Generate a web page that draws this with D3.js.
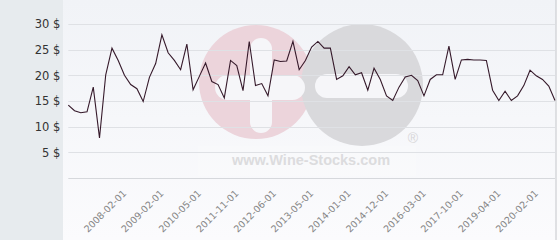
<!DOCTYPE html>
<html>
<head>
<meta charset="utf-8">
<script src="https://cdn.jsdelivr.net/npm/d3@7"></script>
<style>
    html, body { margin: 0; padding: 0; background: #fff; }
    svg { display: block; }
</style>
</head>
<body>
<div class="canvas"></div>
<script>
// Prices, one point per listing date
const prices = [
    14.2, 13.1, 12.7, 12.9, 17.7, 7.8, 20.1, 25.3, 22.9, 20.0,
    18.2, 17.4, 14.9, 19.6, 22.3, 27.9, 24.4, 22.9, 21.1, 26.1,
    17.2, 19.8, 22.4, 18.8, 18.2, 15.6, 22.9, 21.9, 17.0, 26.6,
    18.0, 18.4, 16.0, 23.0, 22.7, 22.8, 26.6, 21.1, 22.9, 25.5,
    26.6, 25.3, 25.3, 19.2, 19.9, 21.7, 20.1, 20.5, 17.1, 21.4,
    19.2, 16.0, 15.1, 17.7, 19.7, 20.0, 19.0, 16.0, 19.2, 20.1,
    20.1, 25.7, 19.2, 23.0, 23.1, 23.0, 23.0, 22.9, 17.1, 15.1,
    16.9, 15.1, 16.0, 18.0, 21.0, 19.9, 19.2, 17.9, 15.1
];

// Dates shown under the axis (every 6th point, from the 10th)
const tickLabels = [
    '2008-02-01', '2009-02-01', '2010-05-01', '2011-11-01',
    '2012-06-01', '2013-05-01', '2014-01-01', '2014-12-01',
    '2016-03-01', '2017-10-01', '2019-04-01', '2020-02-01'
];
const tickIndexes = [9, 15, 21, 27, 33, 39, 45, 51, 57, 63, 69, 75];

const yTicks = [5, 10, 15, 20, 25, 30];

const dims = {
    width: 560,
    height: 240,
    panelLeft: 63,
    panelRight: 556,
    plotLeft: 68.3,
    plotRight: 555,
    plotTop: 24,
    plotBottom: 178
};

const svg = d3.select('.canvas')
    .append('svg')
    .attr('width', dims.width)
    .attr('height', dims.height);

// Backgrounds
const defs = svg.append('defs');
const grad = defs.append('linearGradient')
    .attr('id', 'plotBg')
    .attr('x1', 0).attr('y1', 0).attr('x2', 0).attr('y2', 1);
grad.append('stop').attr('offset', '0%').attr('stop-color', '#f1f3f7');
grad.append('stop').attr('offset', '100%').attr('stop-color', '#fbfbfd');

svg.append('rect')
    .attr('width', dims.width)
    .attr('height', dims.height)
    .attr('fill', '#fbfbfc');

svg.append('rect')
    .attr('width', dims.panelLeft)
    .attr('height', dims.height)
    .attr('fill', '#e7ebee');

svg.append('rect')
    .attr('x', dims.panelLeft)
    .attr('width', dims.panelRight - dims.panelLeft)
    .attr('height', dims.height)
    .attr('fill', 'url(#plotBg)');

svg.append('line')
    .attr('x1', dims.panelRight).attr('x2', dims.panelRight)
    .attr('y1', 0).attr('y2', dims.height)
    .attr('stroke', '#c4c6ca')
    .attr('stroke-width', 1);

// Scales
const x = d3.scaleLinear()
    .domain([0, prices.length - 1])
    .range([dims.plotLeft, dims.plotRight]);

const y = d3.scaleLinear()
    .domain([0, 30])
    .range([dims.plotBottom, dims.plotTop]);

// Watermark
const mark = svg.append('g').attr('class', 'watermark');

mark.append('rect')
    .attr('x', 198).attr('y', 146)
    .attr('width', 218).attr('height', 30)
    .attr('fill', '#ffffff')
    .attr('opacity', 0.2);

mark.append('circle')
    .attr('cx', 256).attr('cy', 82).attr('r', 57)
    .attr('fill', '#ecd4db');

mark.append('circle')
    .attr('cx', 362).attr('cy', 85).attr('r', 61)
    .attr('fill', '#d9d9dc');

mark.append('rect')
    .attr('x', 250).attr('y', 38)
    .attr('width', 22).attr('height', 95)
    .attr('rx', 11)
    .attr('fill', '#f6f6f9');

mark.append('rect')
    .attr('x', 215).attr('y', 75)
    .attr('width', 90).attr('height', 25)
    .attr('rx', 12.5)
    .attr('fill', '#f6f6f9');

mark.append('rect')
    .attr('x', 315).attr('y', 74)
    .attr('width', 93).attr('height', 24)
    .attr('rx', 12)
    .attr('fill', '#f6f6f9');

mark.append('text')
    .attr('x', 413).attr('y', 143)
    .attr('text-anchor', 'middle')
    .attr('font-family', 'Liberation Sans, Arial, sans-serif')
    .attr('font-size', 14)
    .attr('fill', '#d6d6d8')
    .text('®');

mark.append('text')
    .attr('x', 311).attr('y', 164.5)
    .attr('text-anchor', 'middle')
    .attr('font-family', 'Liberation Sans, Arial, sans-serif')
    .attr('font-weight', 'bold')
    .attr('font-size', 14.5)
    .attr('fill', '#dcdcde')
    .text('www.Wine-Stocks.com');

// Grid
const grid = svg.append('g').attr('class', 'grid');
grid.selectAll('line')
    .data([0, ...yTicks])
    .enter()
    .append('line')
    .attr('x1', dims.plotLeft)
    .attr('x2', dims.plotRight)
    .attr('y1', d => Math.round(y(d)) + 0.5)
    .attr('y2', d => Math.round(y(d)) + 0.5)
    .attr('stroke', d => d === 0 ? '#d6d8dc' : '#dfe1e5')
    .attr('stroke-width', 1);

// Y axis labels
const yAxis = svg.append('g')
    .attr('transform', `translate(${dims.plotLeft - 8}, 0)`)
    .call(d3.axisLeft(y)
        .tickValues(yTicks)
        .tickSize(0)
        .tickPadding(0)
        .tickFormat(d => `${d} $`));
yAxis.select('.domain').remove();
yAxis.selectAll('text')
    .attr('font-family', 'DejaVu Sans, sans-serif')
    .attr('font-size', 11.5)
    .attr('fill', '#333');

// X axis labels
const xAxis = svg.append('g')
    .attr('transform', `translate(0, ${dims.plotBottom})`)
    .call(d3.axisBottom(x)
        .tickValues(tickIndexes)
        .tickSize(0)
        .tickFormat((d, i) => tickLabels[i]));
xAxis.select('.domain').remove();
xAxis.selectAll('text')
    .attr('font-family', 'DejaVu Sans, sans-serif')
    .attr('font-size', 9.5)
    .attr('fill', '#858585')
    .attr('text-anchor', 'end')
    .attr('dy', 0)
    .attr('y', 0)
    .attr('transform', 'translate(2, 16) rotate(-45)');

// Price line
const line = d3.line()
    .x((d, i) => x(i))
    .y(d => y(d));

svg.append('path')
    .datum(prices)
    .attr('fill', 'none')
    .attr('stroke', '#35192a')
    .attr('stroke-width', 1.1)
    .attr('stroke-linejoin', 'miter')
    .attr('d', line);
</script>
</body>
</html>
